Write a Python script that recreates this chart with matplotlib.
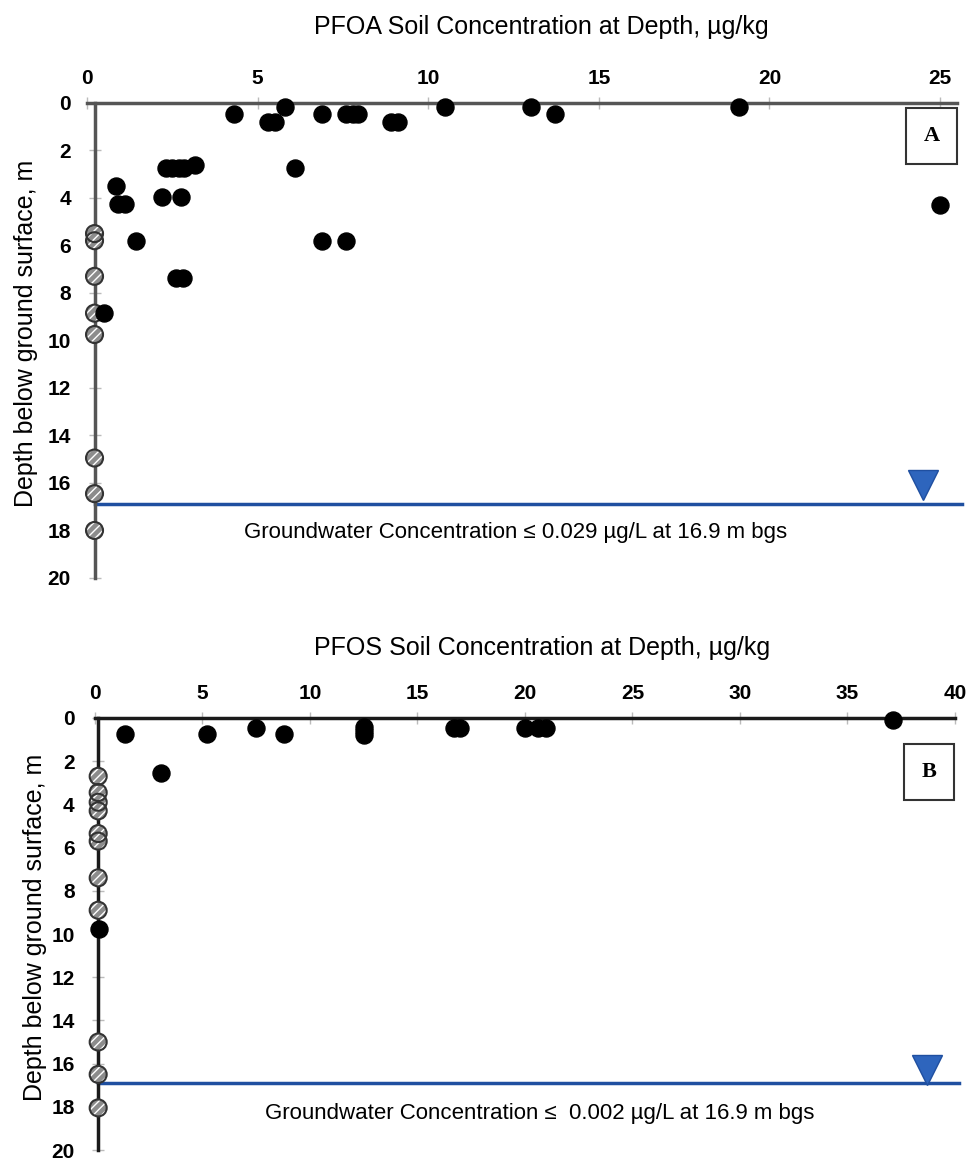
import numpy as np
import matplotlib.pyplot as plt

plt.rcParams['font.family'] = ['Liberation Sans', 'DejaVu Sans']

# PFOA (panel A): detected values, ug/kg vs depth, m
pfoa_conc = [4.3, 5.3, 5.5, 5.8, 6.9, 7.6, 7.8, 7.95, 8.9, 9.1, 10.5, 13.0, 13.7, 19.1,
             6.1, 2.3, 2.5, 2.7, 2.85, 3.15, 0.85, 0.9, 1.1, 2.2, 2.75, 1.45, 6.9, 7.6,
             2.6, 2.8, 0.5, 25.0]
pfoa_depth = [0.45, 0.8, 0.8, 0.15, 0.45, 0.45, 0.45, 0.45, 0.8, 0.8, 0.15, 0.15, 0.45, 0.15,
              2.75, 2.75, 2.75, 2.75, 2.75, 2.6, 3.5, 4.25, 4.25, 3.95, 3.95, 5.8, 5.8, 5.8,
              7.35, 7.35, 8.85, 4.3]
# PFOA non-detects
pfoa_nd_conc = [0.22] * 8
pfoa_nd_depth = [5.5, 5.8, 7.3, 8.85, 9.75, 14.95, 16.45, 18.0]

# PFOS (panel B)
pfos_conc = [1.4, 5.2, 7.5, 8.8, 12.5, 12.5, 12.5, 16.7, 17.0, 3.05, 20.0, 20.6, 21.0, 37.1, 0.2]
pfos_depth = [0.75, 0.75, 0.45, 0.75, 0.4, 0.6, 0.8, 0.45, 0.45, 2.55, 0.45, 0.45, 0.45, 0.1, 9.75]
pfos_nd_conc = [0.15] * 11
pfos_nd_depth = [2.7, 3.45, 3.9, 4.3, 5.35, 5.7, 7.4, 8.9, 15.0, 16.5, 18.05]

gw_depth = 16.9

panels = [
    dict(label='A', conc=pfoa_conc, depth=pfoa_depth, nd_conc=pfoa_nd_conc, nd_depth=pfoa_nd_depth,
         xmax=25.5, xticks=np.arange(0, 26, 5), spine_x=0.22, spine_color='#555555',
         rect=[0.0898, 0.5026, 0.898, 0.4088],
         title='PFOA Soil Concentration at Depth, µg/kg', title_y=1 - 27 / 1162,
         gw_text='Groundwater Concentration ≤ 0.029 µg/L at 16.9 m bgs', gw_xy=(12.55, 18.1),
         tri_xy=(24.5, 16.1), box_xy=(24.75, 1.4)),
    dict(label='B', conc=pfos_conc, depth=pfos_depth, nd_conc=pfos_nd_conc, nd_depth=pfos_nd_depth,
         xmax=40, xticks=np.arange(0, 41, 5), spine_x=0.15, spine_color='#1a1a1a',
         rect=[0.098, 0.0103, 0.8875, 0.3718],
         title='PFOS Soil Concentration at Depth, µg/kg', title_y=1 - 648 / 1162,
         gw_text='Groundwater Concentration ≤  0.002 µg/L at 16.9 m bgs', gw_xy=(20.7, 18.3),
         tri_xy=(38.7, 16.3), box_xy=(38.8, 2.5)),
]

fig = plt.figure(figsize=(9.69, 11.62), dpi=100)

for p in panels:
    ax = fig.add_axes(p['rect'])
    ax.set_xlim(0, p['xmax'])
    ax.set_ylim(20, 0)

    # spines: top one is the x axis, left one crosses at the non-detect value
    for s in ['bottom', 'right']:
        ax.spines[s].set_visible(False)
    ax.spines['top'].set_color(p['spine_color'])
    ax.spines['top'].set_linewidth(2.5)
    ax.spines['left'].set_color(p['spine_color'])
    ax.spines['left'].set_linewidth(2.5)
    ax.spines['left'].set_position(('data', p['spine_x']))

    ax.xaxis.tick_top()
    ax.set_xticks(p['xticks'])
    ax.set_yticks(np.arange(0, 21, 2))
    ax.tick_params(axis='both', direction='inout', length=8, width=1, color='#bbbbbb',
                   labelsize=15)
    ax.tick_params(axis='x', pad=7)
    ax.tick_params(axis='y', pad=13)
    for lab in ax.get_xticklabels() + ax.get_yticklabels():
        lab.set_fontweight('bold')

    ax.set_ylabel('Depth below ground surface, m', fontsize=18, labelpad=4)
    ax.yaxis.set_label_coords(-0.056, 0.515)
    fig.text(0.559, p['title_y'], p['title'], fontsize=18, ha='center', va='center')

    # groundwater table
    ax.axhline(gw_depth, xmin=p['spine_x'] / p['xmax'], xmax=1.005, color='#1f4fa0', lw=2.5,
               clip_on=False, zorder=2)
    ax.plot(*p['tri_xy'], marker='v', markersize=22, color='#2e65bd', markeredgecolor='#1f4fa0',
            clip_on=False, zorder=3)
    ax.text(*p['gw_xy'], p['gw_text'], fontsize=16, ha='center', va='center')

    # data
    ax.scatter(p['nd_conc'], p['nd_depth'], s=150, facecolor='#8c8c8c', edgecolor='white',
               hatch='////', linewidth=0, zorder=4, clip_on=False)
    ax.scatter(p['nd_conc'], p['nd_depth'], s=150, facecolor='none', edgecolor='#333333',
               linewidth=1.5, zorder=4, clip_on=False)
    ax.scatter(p['conc'], p['depth'], s=150, color='black', zorder=5, clip_on=False)

    ax.text(*p['box_xy'], p['label'], fontsize=16, fontweight='bold', family='Liberation Serif',
            ha='center', va='center',
            bbox=dict(boxstyle='square,pad=0.8', facecolor='white', edgecolor='#333333', lw=1.5))

fig.savefig('out.png', dpi=100)
